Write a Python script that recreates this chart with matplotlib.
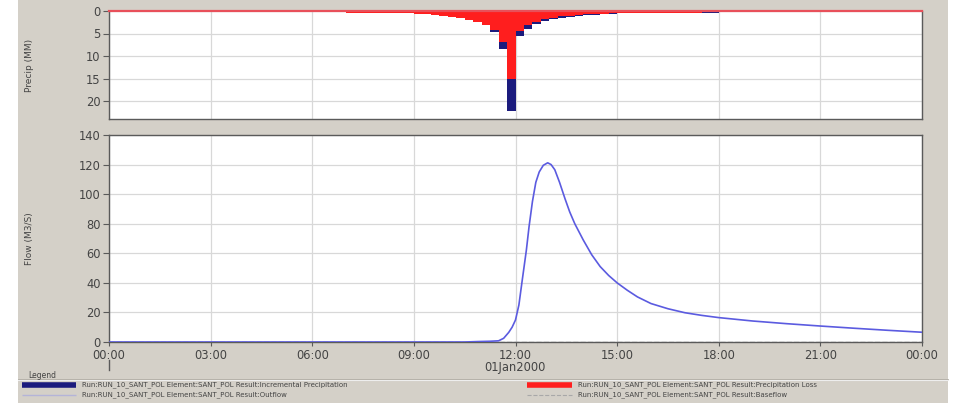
import matplotlib
matplotlib.use("Agg")
import matplotlib.pyplot as plt
from matplotlib.lines import Line2D
from matplotlib.patches import Rectangle
import numpy as np

W, H = 955, 403

# ---------------- data ----------------
# precipitation interval edges (hours from 00:00 01Jan2000)
precip_edges = [0, 1, 2, 3, 4, 5, 6,
                6.5, 7, 7.5, 8, 8.5, 9,
                9.25, 9.5, 9.75, 10, 10.25, 10.5, 10.75, 11, 11.25, 11.5, 11.75, 12,
                12.25, 12.5, 12.75, 13, 13.25, 13.5, 13.75, 14, 14.25, 14.5, 14.75, 15,
                15.5, 16, 16.5, 17, 17.5, 18,
                19, 20, 21, 22, 23, 24]
incremental_precip = [0.22, 0.22, 0.24, 0.25, 0.27, 0.29,
                      0.31, 0.33, 0.36, 0.40, 0.45, 0.50,
                      0.58, 0.70, 0.85, 1.00, 1.25, 1.50, 1.90, 2.40, 3.10, 4.70, 8.40, 22.2,
                      5.60, 3.90, 2.90, 2.20, 1.80, 1.50, 1.25, 1.05, 0.90, 0.80, 0.70, 0.62,
                      0.55, 0.50, 0.46, 0.42, 0.39, 0.36,
                      0.33, 0.30, 0.28, 0.26, 0.24, 0.22]
precip_loss = [0.22, 0.22, 0.24, 0.25, 0.27, 0.29,
               0.31, 0.33, 0.36, 0.40, 0.45, 0.50,
               0.58, 0.70, 0.85, 1.00, 1.25, 1.50, 1.90, 2.35, 3.00, 4.30, 6.80, 15.2,
               4.50, 3.20, 2.40, 1.80, 1.45, 1.20, 1.00, 0.85, 0.72, 0.64, 0.57, 0.52,
               0.47, 0.43, 0.40, 0.37, 0.35, 0.33,
               0.31, 0.29, 0.27, 0.25, 0.23, 0.22]

flow_time = [0, 10.5, 10.9, 11.25, 11.5, 11.65, 11.8, 11.9, 12.0, 12.1, 12.2, 12.32,
             12.4, 12.5, 12.6, 12.7, 12.82, 12.95, 13.05, 13.16, 13.3, 13.46, 13.6,
             13.75, 14.0, 14.25, 14.5, 14.75, 15.0, 15.3, 15.6, 16.0, 16.5, 17.0,
             17.5, 18, 19, 20, 21, 22, 23, 24]
outflow = [0, 0, 0.3, 0.5, 0.8, 2.5, 6.5, 10, 14.9, 25, 42, 62,
           78, 95, 108, 115, 119.5, 121.2, 120, 116.5, 108, 97, 88,
           80, 69, 59, 51, 45, 40, 35, 30.5, 26, 22.5, 19.8,
           18, 16.5, 14.2, 12.4, 10.8, 9.3, 7.9, 6.6]
base_time = [0, 24]
baseflow = [0, 0]

x_ticks = [0, 3, 6, 9, 12, 15, 18, 21, 24]
x_ticklabels = ["00:00", "03:00", "06:00", "09:00", "12:00", "15:00", "18:00", "21:00", "00:00"]
precip_ticks = [0, 5, 10, 15, 20]
flow_ticks = [0, 20, 40, 60, 80, 100, 120, 140]

series_names = ["Run:RUN_10_SANT_POL Element:SANT_POL Result:Incremental Precipitation",
                "Run:RUN_10_SANT_POL Element:SANT_POL Result:Outflow",
                "Run:RUN_10_SANT_POL Element:SANT_POL Result:Precipitation Loss",
                "Run:RUN_10_SANT_POL Element:SANT_POL Result:Baseflow"]

# ---------------- style ----------------
BG = "#d4d0c8"
NAVY = "#1b1b7d"
RED = "#ff1e1e"
FLOWC = "#5b5be0"
GRID = "#d8d8d8"
SPINE = "#5a5a5a"
TXT = "#444444"


def fx(x):
    return x / W


def fy(y):
    return 1 - y / H


fig = plt.figure(figsize=(W / 100, H / 100), dpi=100, facecolor="white")
fig.add_artist(Rectangle((fx(18), 0), fx(948) - fx(18), 1, transform=fig.transFigure,
                         facecolor=BG, edgecolor="none", zorder=0))

L, R = 109, 922
ax1 = fig.add_axes([fx(L), fy(119), fx(R) - fx(L), fy(11) - fy(119)])
ax2 = fig.add_axes([fx(L), fy(342), fx(R) - fx(L), fy(135) - fy(342)])

for ax in (ax1, ax2):
    ax.set_facecolor("white")
    ax.set_xlim(0, 24)
    ax.set_xticks(x_ticks)
    ax.grid(True, color=GRID, lw=0.9)
    ax.set_axisbelow(True)
    for s in ax.spines.values():
        s.set_color(SPINE)
        s.set_linewidth(1.0)
    ax.tick_params(axis="y", direction="out", length=4, width=0.8, color=SPINE,
                   labelsize=8.3, labelcolor=TXT, pad=2)

# top: hyetograph
edges = np.array(precip_edges)
starts = edges[:-1]
widths = np.diff(edges)
ax1.bar(starts, incremental_precip, width=widths, align="edge", color=NAVY, lw=0, zorder=2)
ax1.bar(starts, precip_loss, width=widths, align="edge", color=RED, lw=0, zorder=3)
ax1.set_ylim(24, 0)
ax1.set_yticks(precip_ticks)
ax1.tick_params(axis="x", length=0, labelbottom=False)
ax1.set_ylabel("Precip (MM)", fontsize=6.5, color=TXT)
ax1.spines["top"].set_color("#e8505a")
ax1.spines["top"].set_linewidth(1.6)
ax1.spines["top"].set_zorder(4)

# bottom: flow
ax2.plot(flow_time, outflow, color=FLOWC, lw=1.2, zorder=3)
ax2.plot(base_time, baseflow, color="#a0a0a0", lw=1.0, ls="--", zorder=2)
ax2.set_ylim(0, 140)
ax2.set_yticks(flow_ticks)
ax2.set_xticklabels(x_ticklabels)
ax2.tick_params(axis="x", direction="out", length=3, width=0.8, color=SPINE,
                labelsize=8.3, labelcolor=TXT, pad=2)
ax2.set_ylabel("Flow (M3/S)", fontsize=6.5, color=TXT)
ax1.yaxis.set_label_coords(-0.092, 0.5)
ax2.yaxis.set_label_coords(-0.092, 0.5)

# day marker and date
fig.add_artist(Line2D([fx(109), fx(109)], [fy(360), fy(370)], color=SPINE, lw=1.0))
fig.text(fx(515), fy(368), "01Jan2000", ha="center", va="center", fontsize=8.3, color=TXT)

# legend
fig.text(fx(28), fy(376), "Legend", ha="left", va="center", fontsize=5.5, color=TXT)
fig.add_artist(Line2D([fx(18), fx(948)], [fy(380), fy(380)], color="#eeeeee", lw=0.8))
fig.add_artist(Line2D([fx(18), fx(948)], [fy(379), fy(379)], color="#b0aca4", lw=0.6))
legend_items = [
    (22, 76, 385, NAVY, 4.0, "-", series_names[0]),
    (22, 76, 395, "#b4b4d8", 1.0, "-", series_names[1]),
    (527, 572, 385, RED, 4.0, "-", series_names[2]),
    (527, 572, 395, "#a8a8a8", 0.8, "--", series_names[3]),
]
for x0, x1, y, c, lw, ls, name in legend_items:
    fig.add_artist(Line2D([fx(x0), fx(x1)], [fy(y), fy(y)], color=c, lw=lw, ls=ls,
                          solid_capstyle="butt"))
    fig.text(fx(x1 + 6), fy(y), name, ha="left", va="center", fontsize=5.0, color=TXT)

fig.savefig("out.png", dpi=100, facecolor="white")
